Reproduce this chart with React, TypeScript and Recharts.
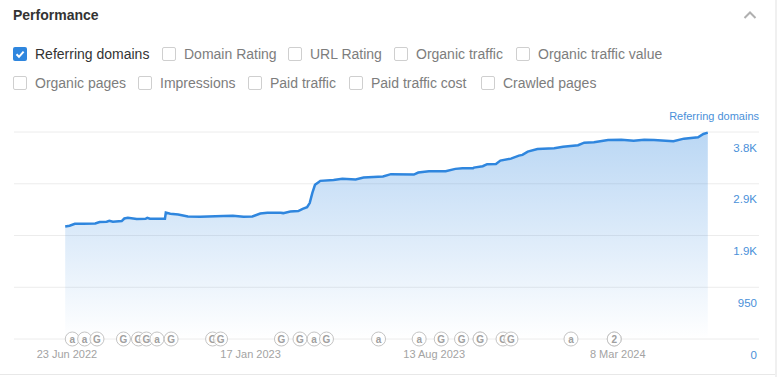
import { Area, CartesianGrid, ComposedChart, ReferenceDot, XAxis, YAxis } from "recharts";

const FONT = '"Liberation Sans", Arial, sans-serif';

const rowOne = ["Referring domains", "Domain Rating", "URL Rating", "Organic traffic", "Organic traffic value"];
const rowOneLeft = [13, 162, 288, 394, 516];
const rowTwo = ["Organic pages", "Impressions", "Paid traffic", "Paid traffic cost", "Crawled pages"];
const rowTwoLeft = [13, 138, 248, 349, 481];

// days counted from 23 Jun 2022
const days = [
  -2, 3, 9, 18, 32, 37, 45, 48, 52, 62, 65, 69, 79, 89, 91, 94, 111, 112, 117, 126, 137, 151, 177, 188, 200, 210,
  219, 227, 242, 245, 253, 262, 267, 272, 275, 278, 281, 285, 287, 302, 312, 327, 336, 358, 367, 393, 398, 410, 429,
  440, 448, 460, 461, 471, 476, 486, 491, 503, 512, 516, 522, 533, 552, 562, 579, 586, 597, 613, 628, 642, 654, 665,
  687, 699, 715, 721, 726,
];
const domains = [
  2066, 2079, 2115, 2115, 2121, 2147, 2152, 2170, 2152, 2165, 2212, 2225, 2201, 2207, 2225, 2207, 2207, 2322, 2299,
  2286, 2249, 2244, 2256, 2262, 2244, 2249, 2304, 2317, 2317, 2311, 2341, 2348, 2390, 2421, 2495, 2683, 2830, 2879,
  2903, 2921, 2940, 2927, 2963, 2982, 3026, 3018, 3055, 3081, 3081, 3123, 3135, 3135, 3146, 3172, 3209, 3214, 3275,
  3311, 3366, 3379, 3440, 3489, 3502, 3531, 3557, 3604, 3612, 3654, 3659, 3641, 3659, 3654, 3630, 3678, 3703, 3764,
  3788,
];
const xTicks = [0, 208, 416, 624];
const xLabels = ["23 Jun 2022", "17 Jan 2023", "13 Aug 2023", "8 Mar 2024"];
const yTicks = [0, 950, 1900, 2850, 3800];
const yLabels = ["0", "950", "1.9K", "2.9K", "3.8K"];

const markDays = [6, 20, 34, 64, 81, 90, 102, 118, 165, 174, 243, 264, 280, 294, 353, 399, 424, 447, 468, 468, 494, 503, 571, 620, 620];
const markLetters = ["a", "a", "G", "G", "G", "G", "a", "G", "G", "G", "G", "G", "a", "G", "a", "a", "G", "G", "G", "G", "G", "G", "a", "2", "2"];

const data = days.map((day, i) => ({ day, value: domains[i] }));

function Option({ label, left, top, checked }: { label: string; left: number; top: number; checked?: boolean }) {
  return (
    <div style={{ position: "absolute", left, top, display: "flex", alignItems: "center", gap: 8, whiteSpace: "nowrap" }}>
      {checked ? (
        <svg width={14} height={14}>
          <rect width={14} height={14} rx={2} fill="#2f86de" />
          <path d="M3.5 7.2 L6 9.8 L10.6 4.6" fill="none" stroke="#fff" strokeWidth={2} />
        </svg>
      ) : (
        <div style={{ width: 14, height: 14, boxSizing: "border-box", border: "1px solid #cfcfcf", borderRadius: 2 }} />
      )}
      <span style={{ fontSize: 14, color: checked ? "#333" : "#7d7d7d" }}>{label}</span>
    </div>
  );
}

function Mark({ cx, cy, letter }: { cx?: number; cy?: number; letter: string }) {
  return (
    <g>
      <circle cx={cx} cy={cy} r={7} fill="#fff" fillOpacity={0.85} stroke="#c4c4c4" />
      <text x={cx} y={(cy ?? 0) + 3.5} textAnchor="middle" fontSize={10} fontWeight={700} fill="#a0a0a0" fontFamily={FONT}>
        {letter}
      </text>
    </g>
  );
}

function YTick({ x, y, payload }: any) {
  return (
    <text x={x} y={y + 19.5} textAnchor="end" fontSize={11.5} fill="#4a90d9" fontFamily={FONT}>
      {yLabels[yTicks.indexOf(payload.value)]}
    </text>
  );
}

export default function App() {
  return (
    <div style={{ position: "absolute", left: 0, top: 0, width: 777, height: 377, background: "#fff", fontFamily: FONT, overflow: "hidden" }}>
      <div style={{ position: "absolute", left: 13, top: 7, fontSize: 14, fontWeight: 700, color: "#333" }}>Performance</div>
      <svg style={{ position: "absolute", left: 743, top: 9 }} width={14} height={12}>
        <path d="M1.5 9 L7 3.5 L12.5 9" fill="none" stroke="#b0b0b0" strokeWidth={2} />
      </svg>
      {rowOne.map((label, i) => (
        <Option key={label} label={label} left={rowOneLeft[i]} top={46} checked={i === 0} />
      ))}
      {rowTwo.map((label, i) => (
        <Option key={label} label={label} left={rowTwoLeft[i]} top={75} />
      ))}
      <div style={{ position: "absolute", right: 18, top: 110, fontSize: 11, color: "#4a90d9" }}>Referring domains</div>
      <div style={{ position: "absolute", left: 0, top: 374, width: 775, height: 1, background: "#e8e8e8" }} />
      <div style={{ position: "absolute", left: 775, top: 0, width: 2, height: 377, background: "#f0f0f0" }} />
      <div style={{ position: "absolute", left: 0, top: 0 }}>
        <ComposedChart width={777} height={377} data={data} margin={{ top: 132, right: 18, bottom: 0, left: 14 }}>
          <defs>
            <linearGradient id="domainsFill" x1="0" y1="0" x2="0" y2="1">
              <stop offset="0%" stopColor="#2f86de" stopOpacity={0.33} />
              <stop offset="100%" stopColor="#2f86de" stopOpacity={0} />
            </linearGradient>
          </defs>
          <CartesianGrid vertical={false} stroke="#ececec" />
          <XAxis
            dataKey="day"
            type="number"
            domain={[-60, 784]}
            ticks={xTicks}
            tickFormatter={(d: number) => xLabels[xTicks.indexOf(d)]}
            axisLine={false}
            tickLine={false}
            height={38}
            tick={{ fontSize: 11, fill: "#a3a3a3", fontFamily: FONT }}
            tickMargin={5}
            interval={0}
          />
          <YAxis
            orientation="right"
            mirror
            width={1}
            domain={[0, 3800]}
            ticks={yTicks}
            axisLine={false}
            tickLine={false}
            tickSize={0}
            tick={<YTick />}
            interval={0}
          />
          <Area
            type="linear"
            dataKey="value"
            stroke="#2f86de"
            strokeWidth={2.5}
            fill="url(#domainsFill)"
            fillOpacity={1}
            dot={false}
            activeDot={false}
            isAnimationActive={false}
          />
          {markDays.map((day, i) => (
            <ReferenceDot
              key={i}
              x={day}
              y={0}
              ifOverflow="visible"
              shape={(props: any) => <Mark cx={props.cx} cy={props.cy} letter={markLetters[i]} />}
            />
          ))}
        </ComposedChart>
      </div>
    </div>
  );
}
